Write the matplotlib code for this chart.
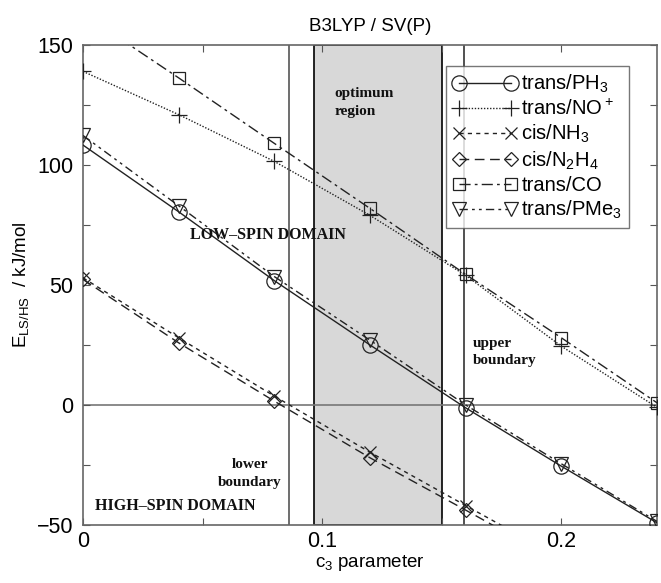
import matplotlib.pyplot as plt
import numpy as np

plt.rcParams['font.family'] = ['Liberation Sans', 'DejaVu Sans']
plt.rcParams['mathtext.default'] = 'regular'

c3 = [0.0, 0.04, 0.08, 0.12, 0.16, 0.20, 0.24]

trans_ph3 = [108.3, 80.5, 51.8, 25.0, -1.2, -25.5, -49.1]
trans_no = [139.0, 121.0, 101.5, 79.0, 54.0, 24.5, -1.0]
cis_nh3 = [53.0, 28.0, 3.7, -19.7, -41.9, -64.0, -86.0]
cis_n2h4 = [52.3, 25.9, 1.6, -22.0, -43.8, -66.0, -88.0]
trans_co = [163.0, 136.3, 109.0, 81.9, 54.4, 28.0, 0.9]
trans_pme3 = [112.3, 83.0, 53.5, 27.0, 0.0, -24.5, -48.5]

labels = ['trans/PH$_3$', 'trans/NO$^+$', 'cis/NH$_3$', 'cis/N$_2$H$_4$',
          'trans/CO', 'trans/PMe$_3$']

lower_boundary = 0.0862
upper_boundary = 0.1594
optimum = (0.0967, 0.1502)

fig = plt.figure(figsize=(6.61, 5.83), dpi=100)
ax = fig.add_axes([0.1256, 0.0995, 0.8684, 0.8233])

lc = '#222222'
ax.axvspan(optimum[0], optimum[1], facecolor='#d8d8d8', edgecolor='black', lw=1.2, zorder=0)
ax.axvline(lower_boundary, color='#555555', lw=1.2, zorder=1)
ax.axvline(upper_boundary, color='#333333', lw=1.2, zorder=1)
ax.axhline(0, color='#777777', lw=1.2, zorder=1)

series = [trans_ph3, trans_no, cis_nh3, cis_n2h4, trans_co, trans_pme3]
markers = ['o', '+', 'x', 'D', 's', 'v']
sizes = [11, 12, 8, 7, 9, 10]
styles = ['-', (0, (1, 1.2)), (0, (3, 3)), (0, (7, 4)), (0, (8, 3, 2, 3)),
          (0, (6, 3, 2, 3, 2, 3))]

for y, m, ms, ls, lab in zip(series, markers, sizes, styles, labels):
    ax.plot(c3, y, linestyle=ls, color=lc, lw=1.0, marker=m, ms=ms,
            mfc='none', mec=lc, mew=0.9, label=lab, zorder=3)

ax.set_xlim(0, 0.24)
ax.set_ylim(-50, 150)
ax.set_xticks([0, 0.1, 0.2])
ax.set_xticklabels(['0', '0.1', '0.2'])
ax.set_xticks([0.05, 0.15], minor=True)
ax.set_yticks([-50, 0, 50, 100, 150])
ax.set_yticks([-25, 25, 75, 125], minor=True)
ax.tick_params(which='both', direction='in', top=True, right=True,
               length=5, width=0.8, color='#555555', labelsize=15.5)
ax.tick_params(axis='x', pad=4)
ax.tick_params(axis='y', pad=7)
for s in ax.spines.values():
    s.set_color('#666666')
    s.set_linewidth(1.2)

ax.set_title('B3LYP / SV(P)', fontsize=13.5, pad=10)
ax.set_xlabel('c$_3$ parameter', fontsize=13.5, labelpad=1)
ax.set_ylabel('E$_{LS/HS}$  / kJ/mol', fontsize=13.5, labelpad=4)

serif = dict(family='Liberation Serif', weight='bold', fontsize=11.5, color='#111111')
ax.text(0.0447, 71, 'LOW\u2013SPIN DOMAIN', va='center', ha='left', **serif)
ax.text(0.005, -42, 'HIGH\u2013SPIN DOMAIN', va='center', ha='left', **serif)
small = dict(family='Liberation Serif', weight='bold', fontsize=11, linespacing=1.45,
             color='#111111')
ax.text(0.105, 126, 'optimum\nregion', va='center', ha='left', **small)
ax.text(0.163, 22, 'upper\nboundary', va='center', ha='left', **small)
ax.text(0.0698, -28.5, 'lower\nboundary', va='center', ha='center', **small)

leg = ax.legend(loc='upper right', bbox_to_anchor=(0.952, 0.957), numpoints=2,
                handlelength=3.2, fontsize=14.5, frameon=True, fancybox=False,
                borderpad=0.35, labelspacing=0.2, handletextpad=0.2,
                borderaxespad=0.0)
leg.get_frame().set_edgecolor('#555555')
leg.get_frame().set_linewidth(1.0)

fig.savefig('out.png', dpi=100)
